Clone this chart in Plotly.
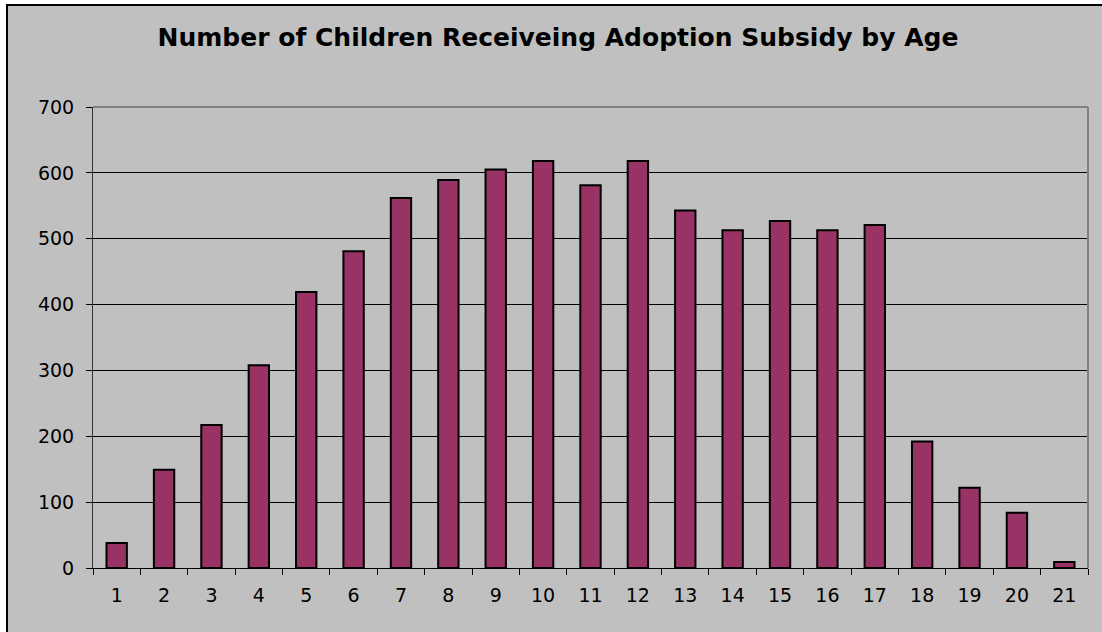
import plotly.graph_objects as go

ages = [str(i) for i in range(1, 22)]
children = [38, 149, 217, 308, 419, 481, 562, 589, 605, 618, 581, 618, 543, 513, 527, 513, 521, 192, 122, 84, 9]
y_ticks = [0, 100, 200, 300, 400, 500, 600, 700]
title_text = "Number of Children Receiveing Adoption Subsidy by Age"

GRAY = "#C0C0C0"
BAR = "#993366"

fig = go.Figure()
fig.add_trace(go.Bar(
    x=ages, y=children, width=0.43,
    marker=dict(color=BAR, line=dict(color="black", width=2)),
    hoverinfo="x+y",
))

L, R, T, B = 93, 14, 107, 64
W, H = 1102, 632
pw = W - L - R
ph = H - T - B

def px_x(x):
    return (x - L) / pw

def px_y(y):
    return (H - B - y) / ph

fig.update_layout(
    width=W, height=H,
    margin=dict(l=L, r=R, t=T, b=B, pad=0),
    paper_bgcolor="white",
    plot_bgcolor=GRAY,
    showlegend=False,
    font=dict(family="DejaVu Sans", size=19, color="black"),
    title=dict(
        text="<b>" + title_text + "</b>",
        font=dict(family="DejaVu Sans", size=25, color="black"),
        x=px_x(558), xref="paper", xanchor="center",
        y=1 - 37 / H, yref="container", yanchor="middle",
    ),
    xaxis=dict(
        type="category",
        showgrid=False,
        showline=True, linecolor="black", linewidth=1,
        ticks="outside", ticklen=6, tickcolor="black", tickwidth=1,
        tickson="boundaries",
        ticklabelstandoff=10,
        tickfont=dict(family="DejaVu Sans", size=19),
        range=[-0.5, 20.5],
        fixedrange=True,
    ),
    yaxis=dict(
        range=[0, 700],
        tickvals=y_ticks,
        showgrid=True, gridcolor="black", gridwidth=1,
        showline=True, linecolor="#333333", linewidth=1,
        ticks="outside", ticklen=6, tickcolor="black", tickwidth=1,
        ticklabelstandoff=8,
        tickfont=dict(family="DejaVu Sans", size=19),
        zeroline=False,
        fixedrange=True,
    ),
    shapes=[
        # outer chart area frame
        dict(type="rect", xref="paper", yref="paper",
             x0=px_x(7), x1=px_x(1120), y0=px_y(650), y1=px_y(5),
             fillcolor=GRAY, line=dict(color="black", width=2), layer="below"),
        # plot area top and right border
        dict(type="line", xref="paper", yref="paper",
             x0=0, x1=1, y0=1, y1=1, line=dict(color="#808080", width=2)),
        dict(type="line", xref="paper", yref="paper",
             x0=1, x1=1, y0=0, y1=1, line=dict(color="#808080", width=2)),
    ],
)

fig.write_html(
    "out.html",
    config={"displayModeBar": False},
    post_script="document.body.style.margin='0';document.body.style.overflow='hidden';",
)
